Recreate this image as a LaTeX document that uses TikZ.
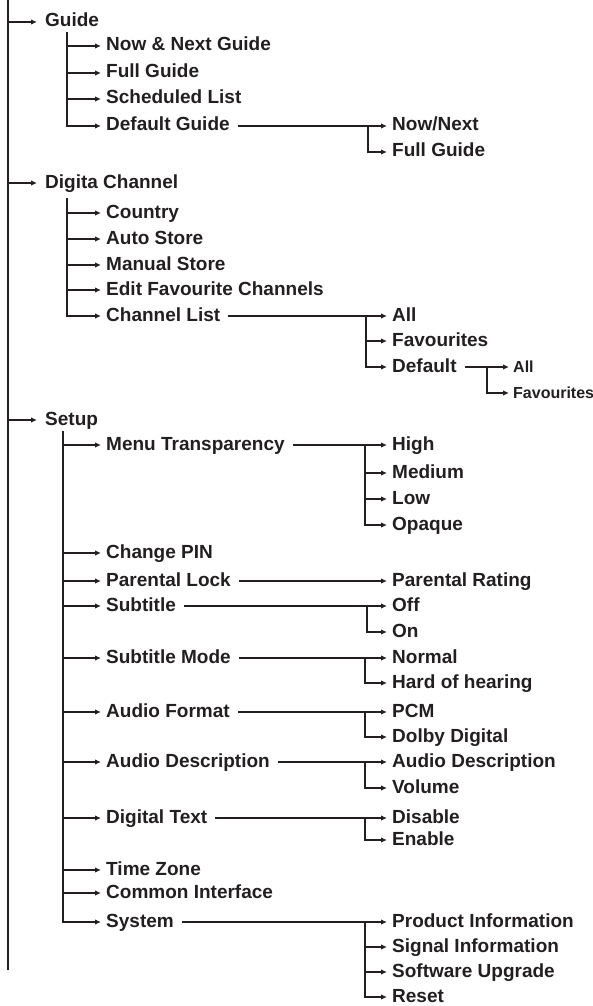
\documentclass[tikz,border=0pt]{standalone}
\usepackage{fontspec}
\setmainfont{Liberation Sans}
\usepackage{xcolor}
\usetikzlibrary{arrows.meta,calc}
\definecolor{ink}{RGB}{35,31,32}
\newcommand{\menufont}{\bfseries\fontsize{19}{22}\selectfont}
\newcommand{\menusmall}{\bfseries\fontsize{16}{19}\selectfont}

\begin{document}
\begin{tikzpicture}[x=1pt,y=-1pt,color=ink,>={Latex[length=6pt,width=5.5pt]},
  item/.style={anchor=west,inner xsep=5pt,inner ysep=0pt,text height=14pt,text depth=4pt,font=\menufont},
  lvl/.style={item,inner xsep=8pt},
  tiny/.style={item,inner xsep=4pt,font=\menusmall},
  stem/.style={line width=2pt,line cap=rect},
  feed/.style={->,line width=1.5pt},
  link/.style={->,line width=1.5pt,shorten <=3pt}]
\useasboundingbox (0,0) rectangle (593,1006);
% main trunk
\coordinate (root) at (8,0);
\coordinate (rootend) at (8,970);
\draw[line width=2.4pt] (root) -- (rootend);
\node[lvl] (guide) at (37,22) {Guide};
\node[lvl] (digita) at (37,183) {Digita Channel};
\node[lvl] (setup) at (37,420) {Setup};
\foreach \n in {guide,digita,setup}
  \draw[feed] (root |- \n.west) -- (\n.west);

% Guide
\coordinate (gst) at (67,33);
\node[item] (nng) at (101,46) {Now \& Next Guide};
\node[item] (fullg) at (101,73) {Full Guide};
\node[item] (sched) at (101,99) {Scheduled List};
\node[item] (defg) at (101,126) {Default Guide};
\draw[stem] (gst) -- (gst |- defg.west);
\foreach \n in {nng,fullg,sched,defg}
  \draw[feed] (gst |- \n.west) -- (\n.west);
\coordinate (dgb) at (368,126);
\node[item] (nownext) at (387,126) {Now/Next};
\node[item] (fullgd) at (387,152) {Full Guide};
\draw[link] (defg.east) -- (nownext.west);
\draw[stem] (dgb) -- (dgb |- fullgd.west);
\draw[feed] (dgb |- fullgd.west) -- (fullgd.west);

% Digita Channel
\coordinate (dst) at (67,199);
\node[item] (country) at (101,213) {Country};
\node[item] (autost) at (101,239) {Auto Store};
\node[item] (manst) at (101,265) {Manual Store};
\node[item] (editfav) at (101,290) {Edit Favourite Channels};
\node[item] (chlist) at (101,316) {Channel List};
\draw[stem] (dst) -- (dst |- chlist.west);
\foreach \n in {country,autost,manst,editfav,chlist}
  \draw[feed] (dst |- \n.west) -- (\n.west);
\coordinate (clb) at (366,316);
\node[item] (chall) at (387,316) {All};
\node[item] (chfav) at (387,341) {Favourites};
\node[item] (chdef) at (387,367) {Default};
\draw[link] (chlist.east) -- (chall.west);
\draw[stem] (clb) -- (clb |- chdef.west);
\foreach \n in {chfav,chdef}
  \draw[feed] (clb |- \n.west) -- (\n.west);
\coordinate (cdb) at (487,367);
\node[tiny] (defall) at (509,367) {All};
\node[tiny] (deffav) at (509,393) {Favourites};
\draw[link] (chdef.east) -- (defall.west);
\draw[stem] (cdb) -- (cdb |- deffav.west);
\draw[feed] (cdb |- deffav.west) -- (deffav.west);

% Setup
\coordinate (sst) at (63,432);
\node[item] (mtrans) at (101,445) {Menu Transparency};
\node[item] (cpin) at (101,553) {Change PIN};
\node[item] (plock) at (101,581) {Parental Lock};
\node[item] (subt) at (101,606) {Subtitle};
\node[item] (submode) at (101,658) {Subtitle Mode};
\node[item] (afmt) at (101,712) {Audio Format};
\node[item] (adesc) at (101,762) {Audio Description};
\node[item] (dtext) at (101,818) {Digital Text};
\node[item] (tzone) at (101,870) {Time Zone};
\node[item] (cif) at (101,893) {Common Interface};
\node[item] (system) at (101,922) {System};
\draw[stem] (sst) -- (sst |- system.west);
\foreach \n in {mtrans,cpin,plock,subt,submode,afmt,adesc,dtext,tzone,cif,system}
  \draw[feed] (sst |- \n.west) -- (\n.west);

% Menu Transparency
\coordinate (mtb) at (365,445);
\node[item] (high) at (387,445) {High};
\node[item] (medium) at (387,473) {Medium};
\node[item] (low) at (387,499) {Low};
\node[item] (opaque) at (387,525) {Opaque};
\draw[link] (mtrans.east) -- (high.west);
\draw[stem] (mtb) -- (mtb |- opaque.west);
\foreach \n in {medium,low,opaque}
  \draw[feed] (mtb |- \n.west) -- (\n.west);

% Parental Lock
\node[item] (prating) at (387,581) {Parental Rating};
\draw[link] (plock.east) -- (prating.west);

% Subtitle
\coordinate (stb) at (367,606);
\node[item] (off) at (387,606) {Off};
\node[item] (on) at (387,632) {On};
\draw[link] (subt.east) -- (off.west);
\draw[stem] (stb) -- (stb |- on.west);
\draw[feed] (stb |- on.west) -- (on.west);

% Subtitle Mode
\coordinate (smb) at (365,658);
\node[item] (normal) at (387,658) {Normal};
\node[item] (hoh) at (387,683) {Hard of hearing};
\draw[link] (submode.east) -- (normal.west);
\draw[stem] (smb) -- (smb |- hoh.west);
\draw[feed] (smb |- hoh.west) -- (hoh.west);

% Audio Format
\coordinate (afb) at (365,712);
\node[item] (pcm) at (387,712) {PCM};
\node[item] (dolby) at (387,737) {Dolby Digital};
\draw[link] (afmt.east) -- (pcm.west);
\draw[stem] (afb) -- (afb |- dolby.west);
\draw[feed] (afb |- dolby.west) -- (dolby.west);

% Audio Description
\coordinate (adb) at (365,762);
\node[item] (adescon) at (387,762) {Audio Description};
\node[item] (volume) at (387,788) {Volume};
\draw[link] (adesc.east) -- (adescon.west);
\draw[stem] (adb) -- (adb |- volume.west);
\draw[feed] (adb |- volume.west) -- (volume.west);

% Digital Text
\coordinate (dtb) at (365,818);
\node[item] (disable) at (387,818) {Disable};
\node[item] (enable) at (387,840) {Enable};
\draw[link] (dtext.east) -- (disable.west);
\draw[stem] (dtb) -- (dtb |- enable.west);
\draw[feed] (dtb |- enable.west) -- (enable.west);

% System
\coordinate (syb) at (365,922);
\node[item] (prodinfo) at (387,922) {Product Information};
\node[item] (siginfo) at (387,947) {Signal Information};
\node[item] (swup) at (387,972) {Software Upgrade};
\node[item] (reset) at (387,997) {Reset};
\draw[link] (system.east) -- (prodinfo.west);
\draw[stem] (syb) -- (syb |- reset.west);
\foreach \n in {siginfo,swup,reset}
  \draw[feed] (syb |- \n.west) -- (\n.west);
\end{tikzpicture}
\end{document}
